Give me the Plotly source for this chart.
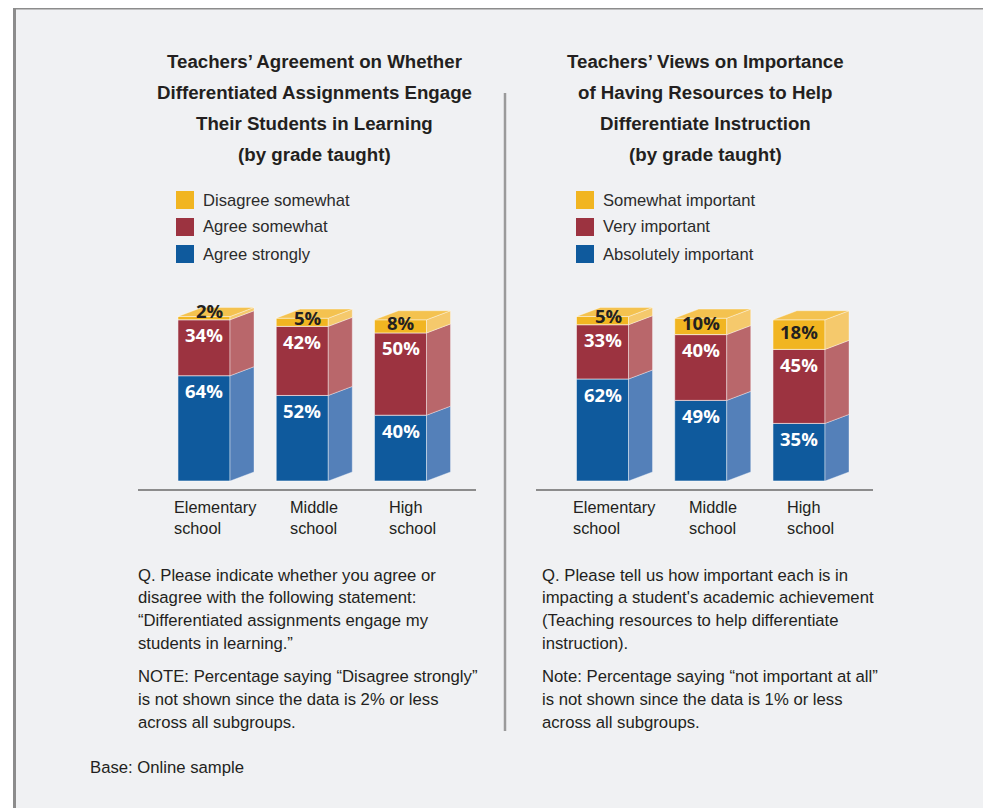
import plotly.graph_objects as go

# The page puts the figure 8 px from the top-left corner, so the figure is
# sized to fill the rest of the 991x808 window.
PAGE_OFF = 8
W, H = 991 - PAGE_OFF, 808 - PAGE_OFF

# ---------------- data ----------------
categories = ["Elementary school", "Middle school", "High school"]
category_labels = ["Elementary<br>school", "Middle<br>school", "High<br>school"]

left_title = ["Teachers’ Agreement on Whether",
              "Differentiated Assignments Engage",
              "Their Students in Learning",
              "(by grade taught)"]
right_title = ["Teachers’ Views on Importance",
               "of Having Resources to Help",
               "Differentiate Instruction",
               "(by grade taught)"]

left_series = ["Agree strongly", "Agree somewhat", "Disagree somewhat"]
agree_strongly = [64, 52, 40]
agree_somewhat = [34, 42, 50]
disagree_somewhat = [2, 5, 8]

right_series = ["Absolutely important", "Very important", "Somewhat important"]
absolutely_important = [62, 49, 35]
very_important = [33, 40, 45]
somewhat_important = [5, 10, 18]

left_notes = [
    ["Q. Please indicate whether you agree or",
     "disagree with the following statement:",
     "“Differentiated assignments engage my",
     "students in learning.”"],
    ["NOTE: Percentage saying “Disagree strongly”",
     "is not shown since the data is 2% or less",
     "across all subgroups."],
]
right_notes = [
    ["Q. Please tell us how important each is in",
     "impacting a student's academic achievement",
     "(Teaching resources to help differentiate",
     "instruction)."],
    ["Note: Percentage saying “not important at all”",
     "is not shown since the data is 1% or less",
     "across all subgroups."],
]
base_note = "Base: Online sample"

# ---------------- style ----------------
FRONT = ["#0f5a9d", "#9c3340", "#f1b521"]
SIDE = ["#5480b9", "#b9676b", "#f5c96c"]
TOP = ["#3f72ad", "#ac5258", "#f4c24f"]
VALUE_TEXT = ["white", "white", "#231f20"]

TITLE_FONT = "Liberation Sans, Arial, sans-serif"
BODY_FONT = "Liberation Sans, Arial, sans-serif"
VALUE_FONT = "Open Sans, Liberation Sans, sans-serif"
TEXT_COLOR = "#231f20"

BAR_W = 0.53
DX = 0.244      # depth offset, category units
DY = 5.5        # depth offset, value units

fig = go.Figure()


def px_x(p):
    return (p - PAGE_OFF) / W


def px_y(p):
    return 1 - (p - PAGE_OFF) / H


def ptext(txt, x, y, size, family, color=TEXT_COLOR, xanchor="left", weight="normal"):
    fig.add_annotation(text=txt, xref="paper", yref="paper", x=px_x(x), y=px_y(y),
                       xanchor=xanchor, yanchor="middle", showarrow=False,
                       font=dict(size=size, family=family, color=color, weight=weight))


def add_panel(xa, ya, series_values, series_names, legend_x, title_lines, title_cx,
              notes, notes_x):
    xs = list(range(len(categories)))
    xref = "x" if xa == "x" else "x2"
    yref = "y" if ya == "y" else "y2"
    base = [0] * len(xs)
    last = len(series_values) - 1
    for k, vals in enumerate(series_values):
        fig.add_trace(go.Bar(
            x=xs, y=vals, base=base, width=BAR_W, xaxis=xa, yaxis=ya,
            marker=dict(color=FRONT[k], line=dict(color="rgba(255,255,255,0.55)", width=1)),
            showlegend=False, hoverinfo="skip", name=series_names[k]))
        # side faces
        sx, sy = [], []
        for i, (b, v) in enumerate(zip(base, vals)):
            x1 = i + BAR_W / 2
            t = b + v
            sx += [x1, x1 + DX, x1 + DX, x1, x1, None]
            sy += [b, b + DY, t + DY, t, b, None]
        fig.add_trace(go.Scatter(
            x=sx, y=sy, xaxis=xa, yaxis=ya, mode="lines", fill="toself",
            fillcolor=SIDE[k], line=dict(color="rgba(255,255,255,0.45)", width=0.8),
            showlegend=False, hoverinfo="skip"))
        # value labels
        for i, (b, v) in enumerate(zip(base, vals)):
            if k < last:
                y, ys, xs_ = b + v, -15, 0
            else:
                y, ys, xs_ = b + v / 2, 3 + 10 / v, (6 if v <= 5 else 0)
            fig.add_annotation(text=f"{v}%", xref=xref, yref=yref, x=i, y=y,
                               yshift=ys, xshift=xs_, showarrow=False,
                               xanchor="center", yanchor="middle",
                               font=dict(size=18.5, family=VALUE_FONT,
                                         color=VALUE_TEXT[k], weight="bold"))
        base = [b + v for b, v in zip(base, vals)]
    # top faces of the topmost segment
    tx, ty = [], []
    for i, t in enumerate(base):
        x0, x1 = i - BAR_W / 2, i + BAR_W / 2
        tx += [x0, x1, x1 + DX, x0 + DX, x0, None]
        ty += [t, t, t + DY, t + DY, t, None]
    fig.add_trace(go.Scatter(
        x=tx, y=ty, xaxis=xa, yaxis=ya, mode="lines", fill="toself",
        fillcolor=TOP[last], line=dict(color="rgba(255,255,255,0.45)", width=0.8),
        showlegend=False, hoverinfo="skip"))
    # category labels
    for i, lab in enumerate(category_labels):
        fig.add_annotation(text=lab, xref=xref, yref="paper", x=i + DX / 2,
                           y=px_y(518), xanchor="center", yanchor="middle",
                           align="left", showarrow=False,
                           font=dict(size=16.3, family=BODY_FONT, color=TEXT_COLOR))
    # legend (top row = last series)
    rows = [200, 227, 254]
    for r, k in enumerate(reversed(range(len(series_names)))):
        yc = rows[r]
        fig.add_shape(type="rect", xref="paper", yref="paper",
                      x0=px_x(legend_x), x1=px_x(legend_x + 18),
                      y0=px_y(yc + 9), y1=px_y(yc - 9),
                      fillcolor=FRONT[k], line=dict(width=0))
        ptext(series_names[k], legend_x + 25, yc, 16.6, BODY_FONT, color="#2b2b2b")
    # titles
    for j, line in enumerate(title_lines):
        ptext(line, title_cx, 61 + j * 31.3, 18.7, TITLE_FONT, xanchor="center",
              weight="bold")
    # notes
    y = 575
    for para in notes:
        for line in para:
            ptext(line, notes_x, y, 16.7, BODY_FONT)
            y += 22.7
        y += 11


# background frame
fig.add_shape(type="rect", xref="paper", yref="paper", x0=px_x(14.5), x1=px_x(986),
              y0=px_y(830), y1=px_y(8), fillcolor="#f0f1f3",
              line=dict(color="#8c8c8c", width=3), layer="below")
# divider
fig.add_shape(type="line", xref="paper", yref="paper", x0=px_x(505), x1=px_x(505),
              y0=px_y(731), y1=px_y(93), line=dict(color="#9a9a9a", width=2.5))

add_panel("x", "y", [agree_strongly, agree_somewhat, disagree_somewhat], left_series,
          176, left_title, 314, left_notes, 136)
add_panel("x2", "y2", [absolutely_important, very_important, somewhat_important],
          right_series, 576, right_title, 705, right_notes, 540)

ptext(base_note, 88, 767, 16.7, BODY_FONT)

SCALE = 1.645  # px per percent
Y_BOTTOM_PX, Y_TOP_PX, ZERO_PX = 489, 289, 481
yrange = [-(Y_BOTTOM_PX - ZERO_PX) / SCALE, (ZERO_PX - Y_TOP_PX) / SCALE]
ydom = [px_y(Y_BOTTOM_PX), px_y(Y_TOP_PX)]
SPACING = 98.25


def xax(dom_l, dom_r, c0):
    return dict(domain=[px_x(dom_l), px_x(dom_r)],
                range=[(dom_l - c0) / SPACING, (dom_r - c0) / SPACING],
                showline=True, linecolor="#8c8c8c", linewidth=2, showgrid=False,
                zeroline=False, showticklabels=False, ticks="", fixedrange=True)


def yax():
    return dict(domain=ydom, range=yrange, visible=False, showgrid=False,
                zeroline=False, fixedrange=True)


fig.update_layout(
    width=W, height=H, margin=dict(l=0, r=0, t=0, b=0),
    paper_bgcolor="white", plot_bgcolor="rgba(0,0,0,0)",
    barmode="overlay", showlegend=False,
    xaxis=dict(xax(138, 476, 204), anchor="y"),
    yaxis=dict(yax(), anchor="x"),
    xaxis2=dict(xax(536, 873, 602.5), anchor="y2"),
    yaxis2=dict(yax(), anchor="x2"),
)

fig.write_html("out.html")
